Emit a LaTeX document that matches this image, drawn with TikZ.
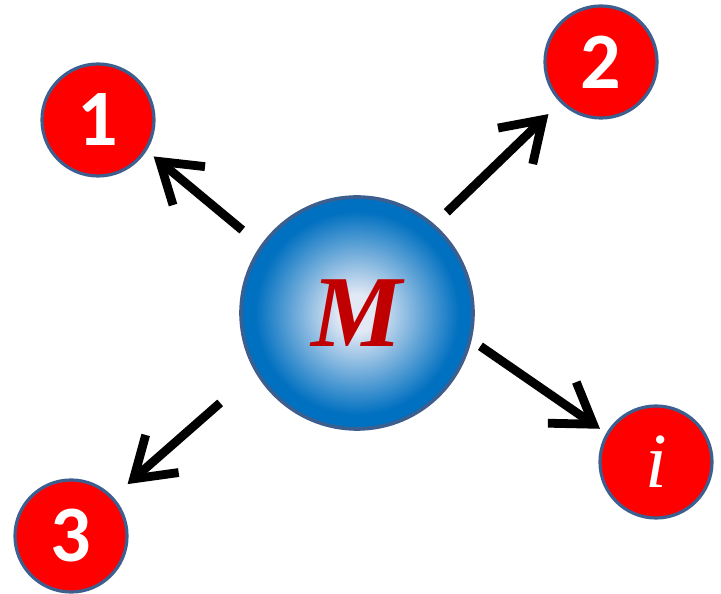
\documentclass[tikz,border=0pt]{standalone}
\usepackage{fontspec}
\setmainfont{Liberation Serif}
\newfontfamily\numfont{Carlito}
\usetikzlibrary{arrows.meta}
\definecolor{ballred}{HTML}{FF0000}
\definecolor{rimblue}{HTML}{3D5F8F}
\definecolor{massblue}{HTML}{0070C0}
\definecolor{masslight}{HTML}{E2E9F5}
\definecolor{massred}{HTML}{C00000}
\pgfdeclareradialshading{massshade}{\pgfpointorigin}{color(0bp)=(masslight); color(4bp)=(masslight); color(22bp)=(massblue); color(50bp)=(massblue)}
\begin{document}
\begin{tikzpicture}[x=.5pt,y=.5pt,>={Straight Barb[length=19pt,width=25pt]},
  ball/.style={circle,draw=rimblue,line width=1.6pt,fill=ballred,minimum size=56pt,inner sep=0pt,outer sep=0pt,text=white,font=\numfont\bfseries\fontsize{40}{40}\selectfont},
  mass/.style={circle,draw=rimblue,line width=1.8pt,shading=massshade,minimum size=116pt,inner sep=0pt,outer sep=0pt,text=massred,font=\bfseries\itshape\fontsize{51}{51}\selectfont},
  push/.style={->,line width=4.4pt}]
  \useasboundingbox (0,0) rectangle (721,593);
  \node[mass] (M) at (357,280) {M};
  \node[ball] (b1) at (98,473) {1};
  \node[ball] (b2) at (601,531) {2};
  \node[ball] (b3) at (71,57) {3};
  \node[ball,font=\itshape\fontsize{39}{39}\selectfont] (bi) at (656,131) {i};
  \draw[push,shorten <=12.8pt,shorten >=5.3pt] (M.145.7) -- (b1.-32.5);
  \draw[push,shorten <=9.5pt,shorten >=9pt] (M.49.8) -- (b2.225.6);
  \draw[push,shorten <=24.2pt,shorten >=10.4pt] (M.-150.6) -- (b3.43.4);
  \draw[push,shorten <=6.3pt,shorten >=4.6pt] (M.-13.7) -- (bi.150.3);
\end{tikzpicture}
\end{document}
